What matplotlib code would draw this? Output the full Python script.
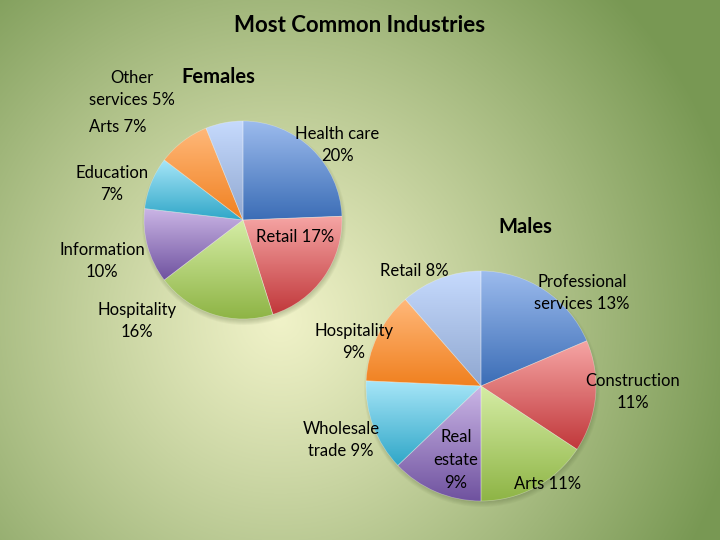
import numpy as np
import matplotlib.pyplot as plt
from matplotlib.colors import to_rgb
from matplotlib.patches import Circle

plt.rcParams['font.family'] = ['Lato', 'DejaVu Sans']

# data
female_industries = ['Health care', 'Retail', 'Hospitality', 'Information',
                     'Education', 'Arts', 'Other services']
female_pct = [20, 17, 16, 10, 7, 7, 5]
female_labels = ['Health care\n20%', 'Retail 17%', 'Hospitality\n16%', 'Information\n10%',
                 'Education\n7%', 'Arts 7%', 'Other\nservices 5%']

male_industries = ['Professional services', 'Construction', 'Arts', 'Real estate',
                   'Wholesale trade', 'Hospitality', 'Retail']
male_pct = [13, 11, 11, 9, 9, 9, 8]
male_labels = ['Professional\nservices 13%', 'Construction\n11%', 'Arts 11%', 'Real\nestate\n9%',
               'Wholesale\ntrade 9%', 'Hospitality\n9%', 'Retail 8%']

# slice gradients, light at top -> dark at bottom
slice_top = ['#9cbbed', '#f6a6a5', '#d5eda5', '#cbb6e6', '#a8e6f8', '#ffb87a', '#c6dafd']
slice_bottom = ['#3b6db6', '#c1383b', '#8eb445', '#6f529f', '#30a7c8', '#f0801f', '#8fa7d0']

W, H = 720, 540


def py(y):
    # pixel row (from top) -> data y
    return H - y


fig = plt.figure(figsize=(7.2, 5.4), dpi=100)
ax = fig.add_axes([0, 0, 1, 1])

# background radial gradient
yy, xx = np.mgrid[0:H, 0:W]
d = np.clip(np.hypot(xx - 280, yy - 320) / 470, 0, 1) ** 1.1
c_in = np.array(to_rgb('#f0f2c8'))
c_out = np.array(to_rgb('#789853'))
bg = c_in * (1 - d[..., None]) + c_out * d[..., None]
ax.imshow(bg, extent=(0, W, 0, H), origin='upper', zorder=0, interpolation='bilinear')


def gradient_pie(values, cx, cy, r):
    # soft shadow
    for k in range(6):
        ax.add_patch(Circle((cx + 1, py(cy) - 3), r + 3 - k, color='#4a5a30',
                            alpha=0.05, lw=0, zorder=1))
    wedges, _ = ax.pie(values, center=(cx, py(cy)), radius=r, startangle=90,
                       counterclock=False,
                       wedgeprops=dict(linewidth=0.5, edgecolor=(1, 1, 1, 0.35)))
    for i, w in enumerate(wedges):
        w.set_facecolor('none')
        w.set_zorder(3)
        ext = w.get_path().get_extents()
        top = np.array(to_rgb(slice_top[i]))
        bot = np.array(to_rgb(slice_bottom[i]))
        t = np.linspace(0, 1, 200)[:, None, None]
        grad = top * (1 - t) + bot * t
        im = ax.imshow(grad, extent=(ext.x0, ext.x1, ext.y0, ext.y1), origin='upper',
                       aspect='auto', zorder=2, interpolation='bilinear')
        im.set_clip_path(w)


gradient_pie(female_pct, 243, 220, 99)
gradient_pie(male_pct, 481, 386, 115)

female_pos = [(337, 145), (295, 237), (137, 321), (102, 261), (112, 184), (118, 127), (132, 89)]
male_pos = [(582, 293), (633, 392), (548, 484), (456, 460), (341, 440), (354, 342), (414, 271)]

for lab, (x, y) in zip(female_labels, female_pos):
    ax.text(x, py(y), lab, ha='center', va='center', fontsize=12, linespacing=1.5, zorder=5)
for lab, (x, y) in zip(male_labels, male_pos):
    ax.text(x, py(y), lab, ha='center', va='center', fontsize=12, linespacing=1.5, zorder=5)

ax.text(360, py(25), 'Most Common Industries', ha='center', va='center',
        fontsize=16, fontweight='bold', zorder=5)
ax.text(218, py(77), 'Females', ha='center', va='center', fontsize=14.5,
        fontweight='bold', zorder=5)
ax.text(525, py(227), 'Males', ha='center', va='center', fontsize=14.5,
        fontweight='bold', zorder=5)

ax.set_xlim(0, W)
ax.set_ylim(0, H)
ax.set_aspect('auto')
ax.axis('off')

fig.savefig('out.png', dpi=100)
